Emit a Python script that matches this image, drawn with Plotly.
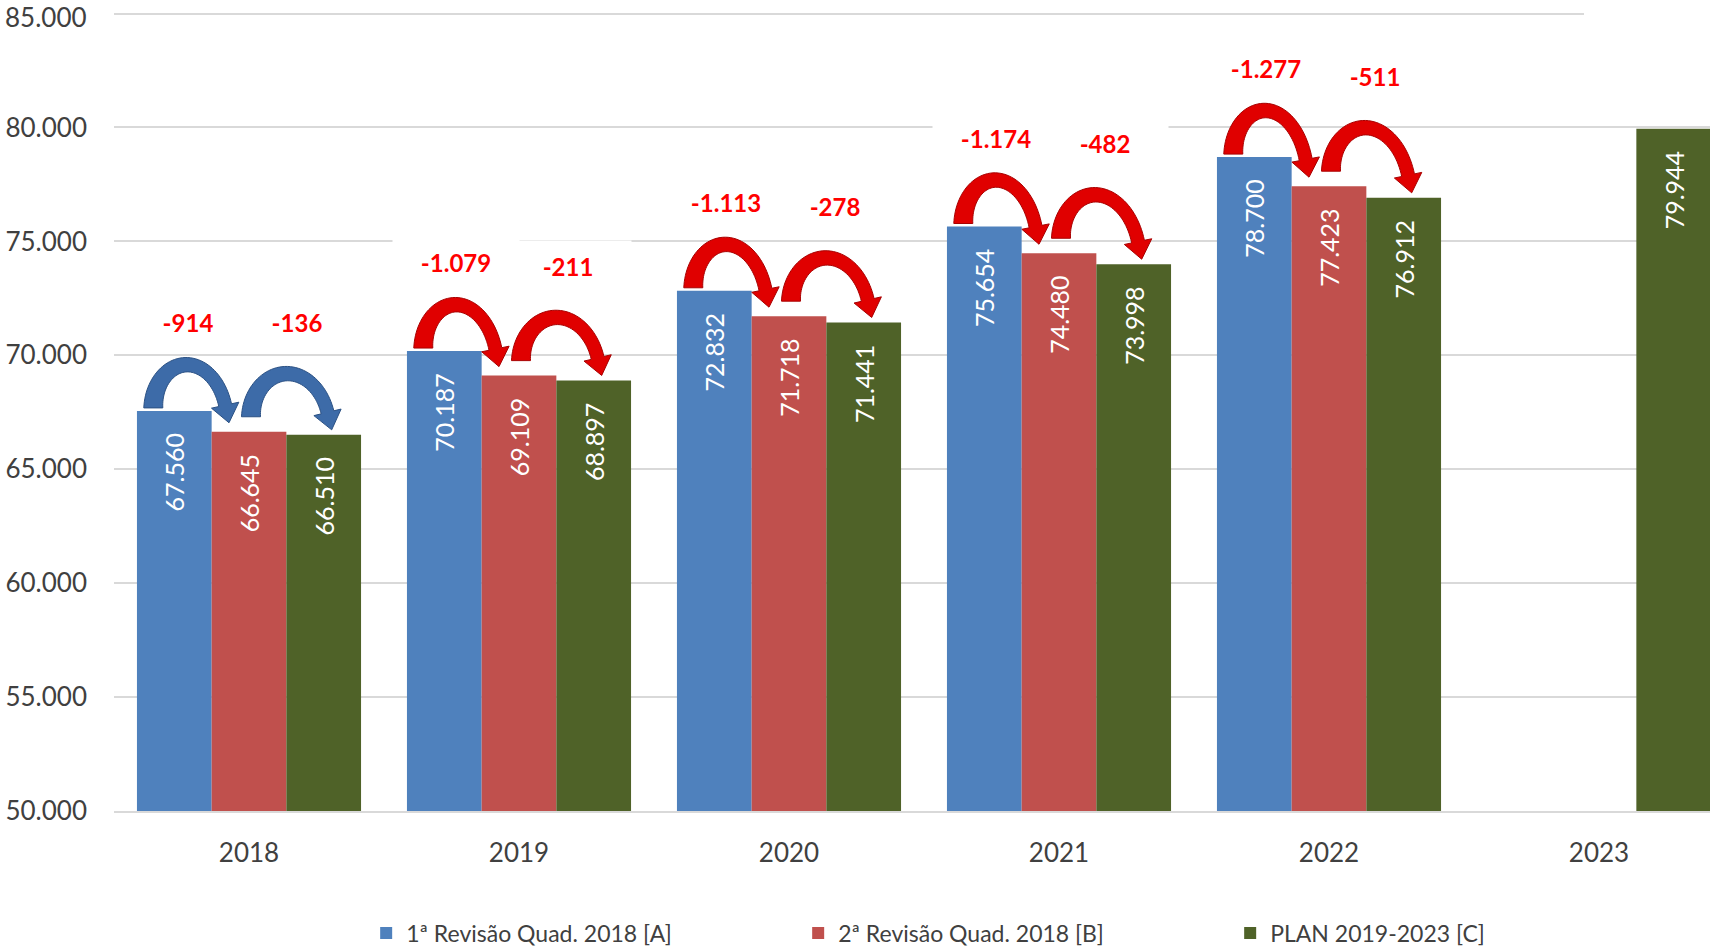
import numpy as np
import plotly.graph_objects as go

# ---------------- data ----------------
years = ["2018", "2019", "2020", "2021", "2022", "2023"]
rev1 = [67560, 70187, 72832, 75654, 78700, None]   # 1ª Revisão Quad. 2018 [A]
rev2 = [66645, 69109, 71718, 74480, 77423, None]   # 2ª Revisão Quad. 2018 [B]
plan = [66510, 68897, 71441, 73998, 76912, 79944]  # PLAN 2019-2023 [C]
diff_ab = [-914, -1079, -1113, -1174, -1277]
diff_bc = [-136, -211, -278, -482, -511]
names = ["1ª Revisão Quad. 2018 [A]", "2ª Revisão Quad. 2018 [B]", "PLAN 2019-2023 [C]"]
y_ticks = [50000, 55000, 60000, 65000, 70000, 75000, 80000, 85000]

# ---------------- layout constants ----------------
W, H = 1710, 951
ML, MR, MT, MB = 114, 0, 9, 140
PITCH = 270.0
XR = [-0.5, -0.5 + (W - ML - MR) / PITCH]
YR = [50000, 85200]
BARGAP = 0.17
BW = (1 - BARGAP) / 3
PLOT_H = H - MT - MB

sx = (W - ML - MR) / (XR[1] - XR[0])
sy = PLOT_H / (YR[1] - YR[0])

def fmt(v):
    return f"{v:,}".replace(",", ".")

colors = ["#4F81BD", "#C0504D", "#4F6228"]
xs = list(range(len(years)))

fig = go.Figure()
for vals, c, n in zip([rev1, rev2, plan], colors, names):
    fig.add_trace(go.Bar(
        x=xs, y=vals, name=n,
        marker=dict(color=c, line=dict(width=0)),
        text=[(fmt(v) + "\u00a0\u00a0\u00a0") if v is not None else "" for v in vals],
        textposition="inside", insidetextanchor="end", textangle=-90,
        insidetextfont=dict(family="Lato", size=25, color="white"),
        hoverinfo="skip",
    ))

# ---------------- curved arrows ----------------
def px(x):
    return (x - XR[0]) * sx

def py(y):
    return (y - YR[0]) * sy

def dx(p):
    return p / sx + XR[0]

def dy(p):
    return p / sy + YR[0]

def arrow(S, T, rise=43.0, head_len=18.0, head_hw=14.0):
    t_end = 0.9 * np.pi
    u = np.array([0.26, -0.965])
    for _ in range(4):
        a = (T[0] - S[0] - u[0] * head_len) / (1 - np.cos(t_end))
        Tb = T[1] - u[1] * head_len
        b = (rise - (0.5 / 0.9) * (Tb - S[1])) / (1 - (0.5 / 0.9) * np.sin(t_end))
        base_end = Tb - b * np.sin(t_end)
        cx = S[0] + a
        def c(t, a=a, b=b, base_end=base_end, cx=cx):
            base = S[1] + (base_end - S[1]) * (t / t_end)
            return np.array([cx - a * np.cos(t), base + b * np.sin(t)])
        e = 1e-4
        d = c(t_end) - c(t_end - e)
        u = d / np.linalg.norm(d)
    ts = np.linspace(0, t_end, 50)
    outer, inner, cent = [], [], []
    for t in ts:
        p = c(t)
        d = c(min(t + 1e-4, t_end)) - c(max(t - 1e-4, 0))
        uu = d / np.linalg.norm(d)
        n = np.array([-uu[1], uu[0]])
        w = 13 + 6 * (1 - t / t_end) ** 2
        outer.append(p + n * w / 2)
        inner.append(p - n * w / 2)
        cent.append(p)
    pe = c(t_end)
    ne = np.array([-u[1], u[0]])
    pts = outer + [pe + ne * head_hw, pe + u * head_len, pe - ne * head_hw] + inner[::-1]
    path = "M " + " L ".join(f"{dx(p[0]):.5f},{dy(p[1]):.3f}" for p in pts) + " Z"
    cent = np.array(cent)
    k = int(np.argmax(cent[:, 1]))
    return path, cent[k]

shapes = []
annotations = []
for i in range(len(diff_ab)):
    A, B, C = rev1[i], rev2[i], plan[i]
    xa, xb, xc = i - BW, i, i + BW
    if i == 0:
        fill, line = "#3D6BA8", "#2B5184"
    else:
        fill, line = "#E00000", "#A80000"
    arrows = [
        ((px(xa) - 21, py(A) + 3), (px(xb) - 20, py(B) + 9), diff_ab[i], py(A) + 89, 0),
        ((px(xb) + 2, py(B) + 15), (px(xc) + 8, py(C) + 5), diff_bc[i], py(B) + 110, 10),
    ]
    for S, T, dv, ly, lx in arrows:
        path, peak = arrow(S, T)
        shapes.append(dict(type="path", path=path, xref="x", yref="y",
                           fillcolor=fill, line=dict(color=line, width=1), layer="above"))
        annotations.append(dict(x=dx(peak[0] + lx), y=dy(ly), xref="x", yref="y",
                                text=fmt(dv), showarrow=False,
                                width=126, height=50, bgcolor="white", borderpad=0,
                                font=dict(family="Lato", size=24, color="#FF0000", weight="bold")))

# top tick label drawn as an annotation so it stays inside the page
annotations.append(dict(x=0, xref="paper", xanchor="right", xshift=-26,
                        y=1 + MT / PLOT_H, yref="paper", yanchor="top",
                        text=fmt(y_ticks[-1]), showarrow=False, borderpad=0,
                        font=dict(family="Lato", size=26, color="#404040")))

# the top gridline stops short of the right edge in the original
shapes.append(dict(type="line", xref="paper", yref="y", x0=(1584 - ML) / (W - ML - MR), x1=1.0,
                   y0=y_ticks[-1], y1=y_ticks[-1], line=dict(color="white", width=4), layer="above"))

fig.update_layout(
    width=W, height=H,
    margin=dict(l=ML, r=MR, t=MT, b=MB, pad=0),
    paper_bgcolor="white", plot_bgcolor="white",
    barmode="group", bargap=BARGAP, bargroupgap=0,
    separators=",.",
    font=dict(family="Lato", color="#404040"),
    shapes=shapes, annotations=annotations,
    legend=dict(orientation="h", x=0.158, xanchor="left",
                yref="container", y=1 - 933 / H, yanchor="middle",
                font=dict(family="Lato", size=23, color="#404040"),
                entrywidth=387, entrywidthmode="pixels", bgcolor="rgba(0,0,0,0)",
                traceorder="normal"),
    xaxis=dict(range=XR, tickmode="array", tickvals=xs, ticktext=years,
               showgrid=False, zeroline=False, showline=True, linecolor="#D9D9D9", linewidth=2,
               ticks="", tickfont=dict(family="Lato", size=26, color="#404040"),
               ticklabelstandoff=18, fixedrange=True, automargin=False),
    yaxis=dict(range=YR, tickmode="array",
               tickvals=y_ticks, ticktext=[fmt(v) for v in y_ticks[:-1]] + [""],
               showgrid=True, gridcolor="#D9D9D9", gridwidth=2, zeroline=False, showline=False,
               ticks="", tickfont=dict(family="Lato", size=26, color="#404040"),
               ticklabelstandoff=26, fixedrange=True, automargin=False),
)

fig.write_html("out.html")
